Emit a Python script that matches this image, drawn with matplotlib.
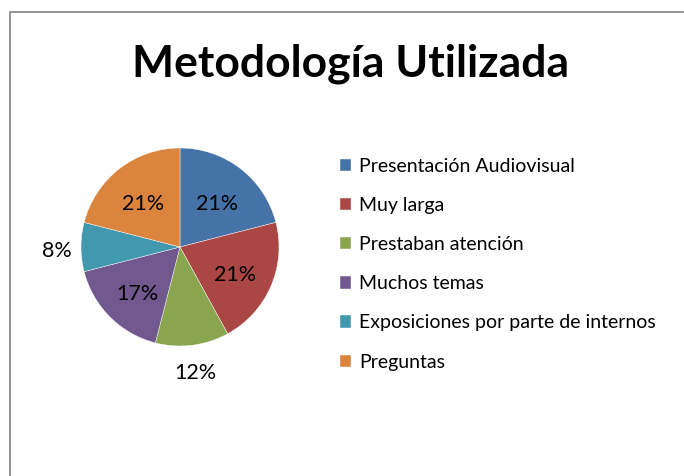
import numpy as np
import matplotlib
matplotlib.use('Agg')
import matplotlib.pyplot as plt
from matplotlib.lines import Line2D

# ── data ──────────────────────────────────────────────────────────────────────
categories = ['Presentación Audiovisual', 'Muy larga', 'Prestaban atención',
              'Muchos temas', 'Exposiciones por parte de internos', 'Preguntas']
percent = [21, 21, 12, 17, 8, 21]
colors = ['#4572A7', '#AA4643', '#89A54E', '#71588F', '#4198AF', '#DB843D']
title = 'Metodología Utilizada'

plt.rcParams['font.family'] = ['Lato', 'DejaVu Sans']

W, H = 684, 476
fig = plt.figure(figsize=(W / 100, H / 100), dpi=100)
fig.patch.set_facecolor('white')

# chart frame: only left and top edges fall inside the image
x0, y0 = 9.5 / W, 1 - 11.5 / H
fig.add_artist(Line2D([x0, x0, 0.998], [0.0, y0, y0], transform=fig.transFigure,
                      color='#8c8c8c', linewidth=1.3))

fig.text(351 / W, 1 - 64 / H, title, ha='center', va='center',
         fontsize=32, fontweight='bold', color='black')

# ── pie ───────────────────────────────────────────────────────────────────────
cx, cy, r = 180, 247, 99
ax = fig.add_axes([(cx - r) / W, 1 - (cy + r) / H, 2 * r / W, 2 * r / H])
wedges, texts, autotexts = ax.pie(
    percent, colors=colors, startangle=90, counterclock=False,
    autopct=lambda p: f'{p:.0f}%', pctdistance=0.61, radius=1,
    wedgeprops=dict(edgecolor='white', linewidth=0.3),
    textprops=dict(fontsize=15.5, color='black'))
ax.set_xlim(-1, 1)
ax.set_ylim(-1, 1)
ax.set_aspect('equal')
ax.axis('off')

# small slices get their label outside, like Excel's best fit
for w, t, p in zip(wedges, autotexts, percent):
    ang = np.deg2rad((w.theta1 + w.theta2) / 2)
    d = 1.24 if p < 15 else 0.61
    t.set_position((d * np.cos(ang), d * np.sin(ang) - 0.045))

fig.legend(wedges, categories, loc='upper left',
           bbox_to_anchor=(332 / W, 1 - 150 / H), frameon=False,
           fontsize=14, handlelength=0.6, handleheight=0.6,
           handletextpad=0.4, labelspacing=1.14, borderaxespad=0)

fig.savefig('out.png', dpi=100)
